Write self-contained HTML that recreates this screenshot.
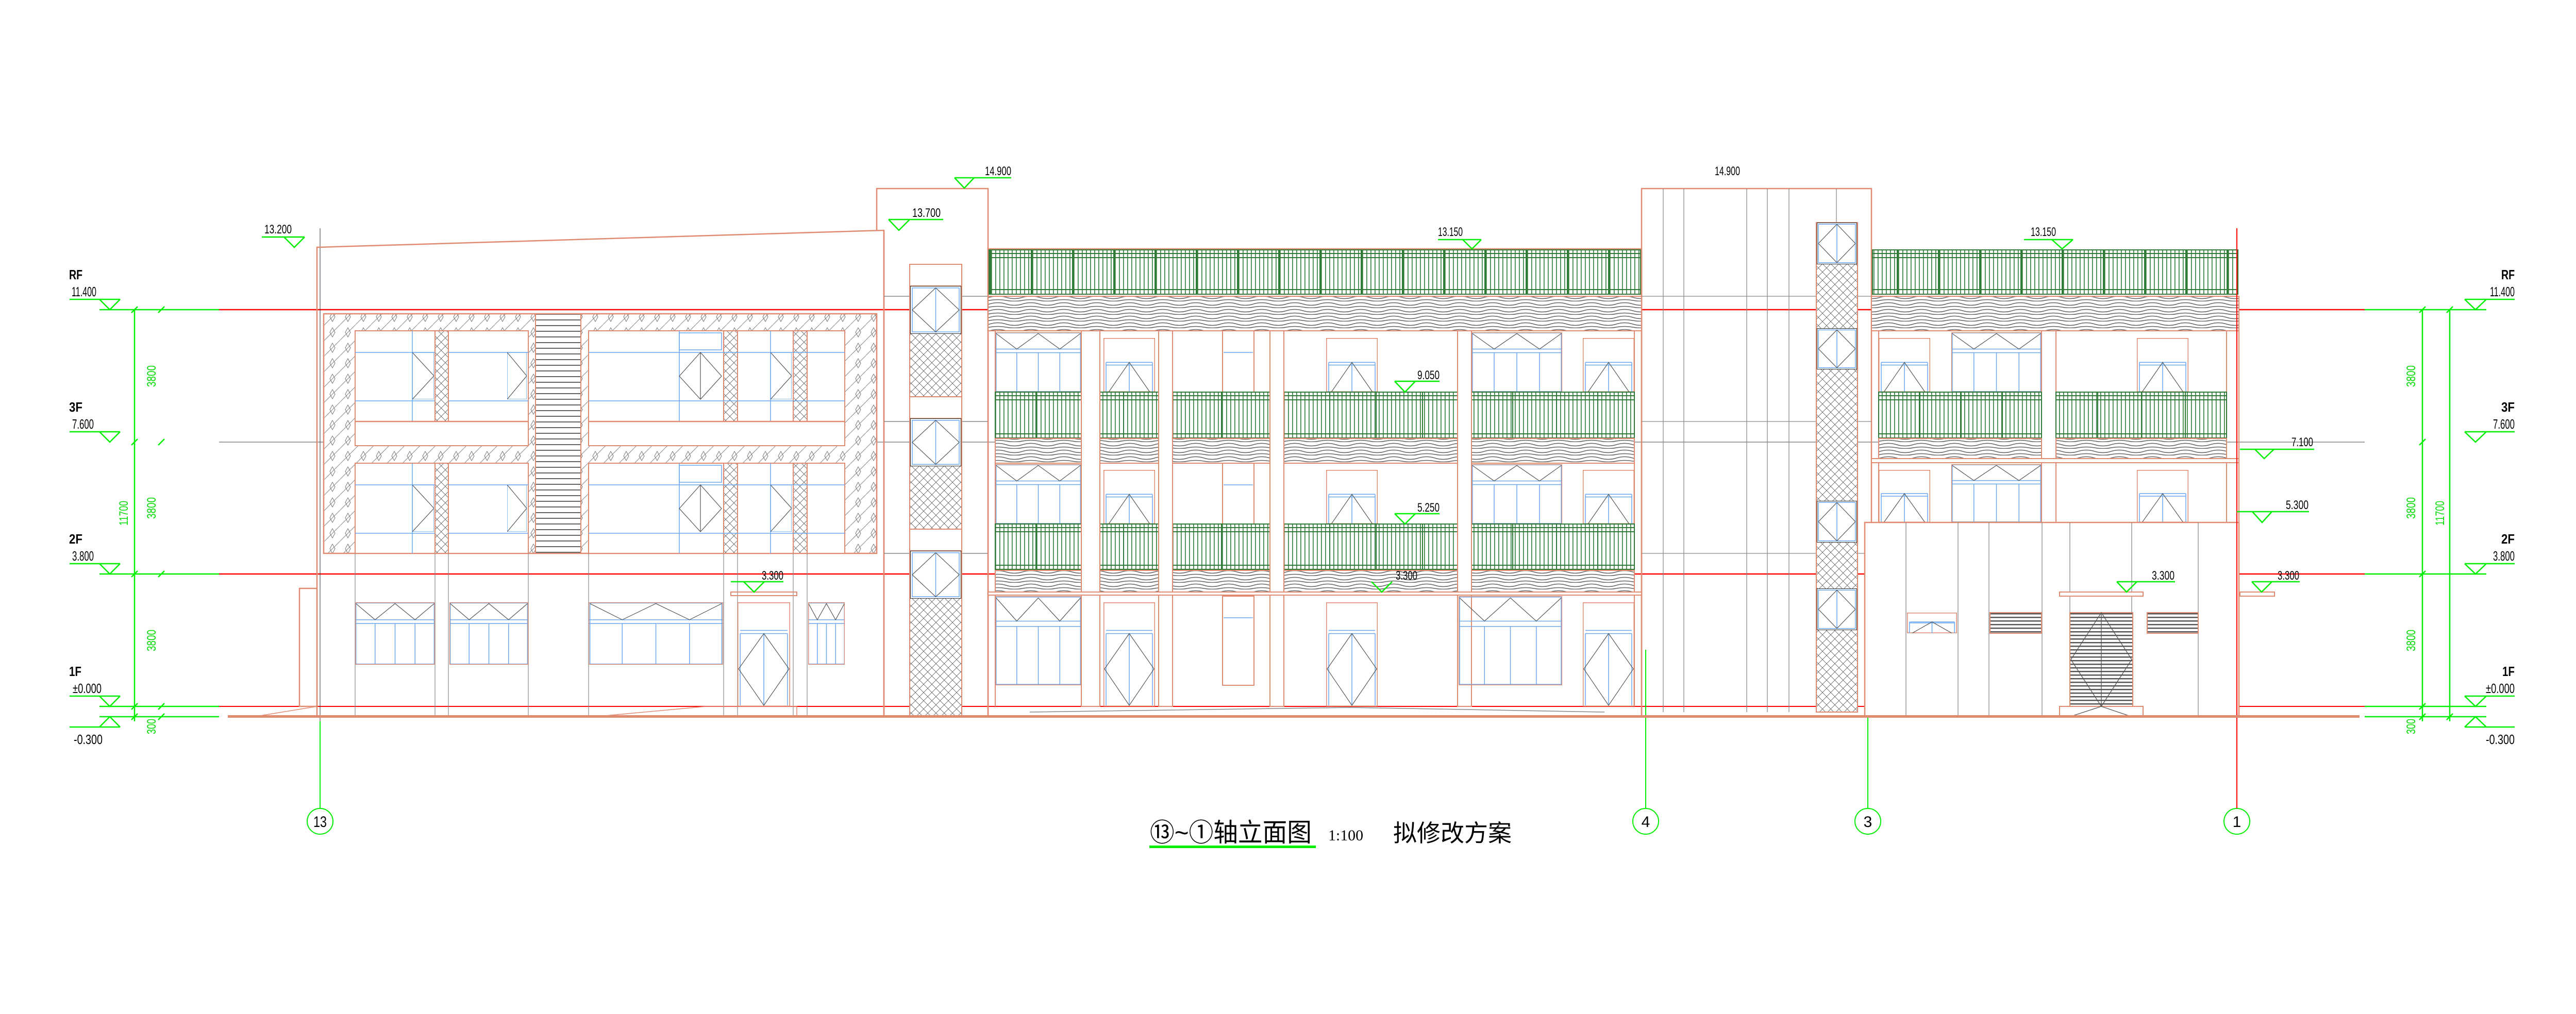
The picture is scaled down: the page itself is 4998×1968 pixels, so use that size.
<!DOCTYPE html>
<html><head><meta charset="utf-8"><style>
html,body{margin:0;padding:0;background:#fff;}
svg{display:block;}
text{font-family:"Liberation Sans","Noto Sans CJK SC",sans-serif;fill:#000;}
</style></head><body>
<svg width="4998" height="1968" viewBox="0 0 4998 1968" xmlns="http://www.w3.org/2000/svg">
<defs>
<pattern id="xh" width="16" height="16" patternUnits="userSpaceOnUse"><rect width="16" height="16" fill="#fff"/><path d="M0 0L16 16M16 0L0 16" stroke="#777" stroke-width="1"/></pattern>
<pattern id="dh" width="30" height="30" patternUnits="userSpaceOnUse"><rect width="30" height="30" fill="#fff"/><path d="M0 30L30 0" stroke="#888" stroke-width="1"/><path d="M15 6L20 15L15 24L10 15Z" fill="none" stroke="#777" stroke-width="1"/></pattern>
<pattern id="wv" width="64" height="13" patternUnits="userSpaceOnUse"><rect width="64" height="13" fill="#fff"/><path d="M0 5q16 -5 32 0t32 0M0 11q16 -3 32 0t32 0" fill="none" stroke="#666" stroke-width="1.6"/></pattern>
<pattern id="rl" width="8" height="20" patternUnits="userSpaceOnUse"><rect width="8" height="20" fill="#fff"/><rect x="3" y="0" width="1.6" height="20" fill="#2e7a36"/></pattern>
<pattern id="rp" width="80" height="400" patternUnits="userSpaceOnUse"><rect x="0" y="0" width="3" height="400" fill="#2e7a36"/></pattern>
<pattern id="lv" width="10" height="7" patternUnits="userSpaceOnUse"><rect width="10" height="7" fill="#fff"/><rect y="0" width="10" height="2.5" fill="#555"/></pattern>
<pattern id="st" width="10" height="11" patternUnits="userSpaceOnUse"><rect width="10" height="11" fill="#fff"/><rect y="4" width="10" height="1.8" fill="#555"/></pattern>
<symbol id="wt" viewBox="0 0 100 100" preserveAspectRatio="none"><g fill="none" stroke="#6aa8f0" stroke-width="1.5" vector-effect="non-scaling-stroke"><rect x="1" y="1" width="98" height="98" vector-effect="non-scaling-stroke"/><path d="M0 28H100M0 34H100M25 34V100M50 34V100M75 34V100" vector-effect="non-scaling-stroke"/></g><path d="M1 2L25 28L50 2L75 28L99 2" fill="none" stroke="#555" stroke-width="1.2" vector-effect="non-scaling-stroke"/><rect x="0" y="0" width="100" height="100" fill="none" stroke="#e08a70" stroke-width="2.5" vector-effect="non-scaling-stroke"/></symbol>
<symbol id="bt" viewBox="0 0 100 100" preserveAspectRatio="none"><rect x="0" y="0" width="100" height="100" fill="none" stroke="#e08a70" stroke-width="3" vector-effect="non-scaling-stroke"/><path d="M5 45H95M5 50H95M50 45V100M5 45V100M95 45V100" fill="none" stroke="#6aa8f0" stroke-width="1.5" vector-effect="non-scaling-stroke"/><path d="M10 100L50 45L90 100" fill="none" stroke="#555" stroke-width="1.2" vector-effect="non-scaling-stroke"/></symbol>
<symbol id="dd" viewBox="0 0 100 100" preserveAspectRatio="none"><rect x="0" y="0" width="100" height="100" fill="none" stroke="#e08a70" stroke-width="3" vector-effect="non-scaling-stroke"/><path d="M5 27H95M5 30H95M5 30V99M95 30V99M50 30V99" fill="none" stroke="#6aa8f0" stroke-width="1.5" vector-effect="non-scaling-stroke"/><path d="M50 30L98 64L50 99L2 64Z" fill="none" stroke="#555" stroke-width="1.2" vector-effect="non-scaling-stroke"/></symbol>
<symbol id="dw" viewBox="0 0 100 100" preserveAspectRatio="none"><rect x="0" y="0" width="100" height="100" fill="#fff" stroke="#333" stroke-width="2" vector-effect="non-scaling-stroke"/><path d="M4 4H96V96H4ZM50 4V96" fill="none" stroke="#6aa8f0" stroke-width="1.5" vector-effect="non-scaling-stroke"/><path d="M50 4L96 50L50 96L4 50Z" fill="none" stroke="#555" stroke-width="1.2" vector-effect="non-scaling-stroke"/></symbol>
<symbol id="rt" viewBox="0 0 100 100" preserveAspectRatio="none"><rect x="0" y="0" width="100" height="100" fill="none" stroke="#6aa8f0" stroke-width="1.5" vector-effect="non-scaling-stroke"/><path d="M0 0L100 50L0 100" fill="none" stroke="#555" stroke-width="1.2" vector-effect="non-scaling-stroke"/></symbol>
</defs>

<!-- level lines -->
<g stroke-width="2.5">
<line x1="425" y1="601" x2="4588" y2="601" stroke="#ff0000"/>
<line x1="425" y1="858" x2="4588" y2="858" stroke="#444" stroke-width="1"/>
<line x1="425" y1="1114" x2="4588" y2="1114" stroke="#ff0000"/>
<line x1="425" y1="1371" x2="4588" y2="1371" stroke="#ff0000" stroke-width="2"/>
</g>
<g stroke="#00ee00" stroke-width="2.5" fill="none">
<line x1="193" y1="601" x2="425" y2="601"/><line x1="193" y1="1114" x2="425" y2="1114"/><line x1="193" y1="1371" x2="425" y2="1371"/><line x1="193" y1="1391" x2="425" y2="1391"/>
<line x1="4588" y1="601" x2="4824" y2="601"/><line x1="4588" y1="1114" x2="4824" y2="1114"/><line x1="4588" y1="1371" x2="4824" y2="1371"/><line x1="4588" y1="1391" x2="4824" y2="1391"/>
<path d="M135 581H233M193 581L213 601L233 581"/>
<path d="M135 838H233M193 838L213 858L233 838"/>
<path d="M135 1094H233M193 1094L213 1114L233 1094"/>
<path d="M135 1351H233M193 1351L213 1371L233 1351"/>
<path d="M135 1411H233M193 1411L213 1391L233 1411"/>
<path d="M4782 581H4879M4782 581L4803 601L4824 581"/>
<path d="M4782 838H4879M4782 838L4803 858L4824 838"/>
<path d="M4782 1094H4879M4782 1094L4803 1114L4824 1094"/>
<path d="M4782 1351H4879M4782 1351L4803 1371L4824 1351"/>
<path d="M4782 1411H4879M4782 1411L4803 1391L4824 1411"/>
<line x1="261" y1="601" x2="261" y2="1400"/>
<path d="M255 607L267 595M255 864L267 852M255 1120L267 1108M255 1377L267 1365M255 1397L267 1385M307 607L319 595M307 864L319 852M307 1120L319 1108M307 1377L319 1365M307 1397L319 1385"/>
<line x1="4700" y1="601" x2="4700" y2="1400"/><line x1="4753" y1="601" x2="4753" y2="1400"/>
<path d="M4694 607L4706 595M4694 864L4706 852M4694 1120L4706 1108M4694 1377L4706 1365M4694 1397L4706 1385M4747 607L4759 595M4747 1397L4759 1385"/>
</g>
<g font-size="24">
<text transform="translate(302,730) rotate(-90)" text-anchor="middle" fill="#00dd00" style="fill:#00dd00" textLength="42" lengthAdjust="spacingAndGlyphs">3800</text>
<text transform="translate(302,986) rotate(-90)" text-anchor="middle" style="fill:#00dd00" textLength="42" lengthAdjust="spacingAndGlyphs">3800</text>
<text transform="translate(302,1243) rotate(-90)" text-anchor="middle" style="fill:#00dd00" textLength="42" lengthAdjust="spacingAndGlyphs">3800</text>
<text transform="translate(302,1410) rotate(-90)" text-anchor="middle" style="fill:#00dd00" textLength="30" lengthAdjust="spacingAndGlyphs">300</text>
<text transform="translate(248,996) rotate(-90)" text-anchor="middle" style="fill:#00dd00" textLength="48" lengthAdjust="spacingAndGlyphs">11700</text>
<text transform="translate(4686,730) rotate(-90)" text-anchor="middle" style="fill:#00dd00" textLength="42" lengthAdjust="spacingAndGlyphs">3800</text>
<text transform="translate(4686,986) rotate(-90)" text-anchor="middle" style="fill:#00dd00" textLength="42" lengthAdjust="spacingAndGlyphs">3800</text>
<text transform="translate(4686,1243) rotate(-90)" text-anchor="middle" style="fill:#00dd00" textLength="42" lengthAdjust="spacingAndGlyphs">3800</text>
<text transform="translate(4686,1410) rotate(-90)" text-anchor="middle" style="fill:#00dd00" textLength="30" lengthAdjust="spacingAndGlyphs">300</text>
<text transform="translate(4742,996) rotate(-90)" text-anchor="middle" style="fill:#00dd00" textLength="48" lengthAdjust="spacingAndGlyphs">11700</text>
</g>
<g font-size="26">
<text x="134" y="542" textLength="26" lengthAdjust="spacingAndGlyphs" font-weight="bold">RF</text>
<text x="139" y="575" textLength="48" lengthAdjust="spacingAndGlyphs">11.400</text>
<text x="134" y="799" textLength="26" lengthAdjust="spacingAndGlyphs" font-weight="bold">3F</text>
<text x="140" y="832" textLength="42" lengthAdjust="spacingAndGlyphs">7.600</text>
<text x="134" y="1055" textLength="26" lengthAdjust="spacingAndGlyphs" font-weight="bold">2F</text>
<text x="140" y="1088" textLength="42" lengthAdjust="spacingAndGlyphs">3.800</text>
<text x="134" y="1312" textLength="24" lengthAdjust="spacingAndGlyphs" font-weight="bold">1F</text>
<text x="141" y="1345" textLength="56" lengthAdjust="spacingAndGlyphs">±0.000</text>
<text x="143" y="1444" textLength="56" lengthAdjust="spacingAndGlyphs">-0.300</text>
<text x="4853" y="542" textLength="26" lengthAdjust="spacingAndGlyphs" font-weight="bold">RF</text>
<text x="4831" y="575" textLength="48" lengthAdjust="spacingAndGlyphs">11.400</text>
<text x="4853" y="799" textLength="26" lengthAdjust="spacingAndGlyphs" font-weight="bold">3F</text>
<text x="4837" y="832" textLength="42" lengthAdjust="spacingAndGlyphs">7.600</text>
<text x="4853" y="1055" textLength="26" lengthAdjust="spacingAndGlyphs" font-weight="bold">2F</text>
<text x="4837" y="1088" textLength="42" lengthAdjust="spacingAndGlyphs">3.800</text>
<text x="4855" y="1312" textLength="24" lengthAdjust="spacingAndGlyphs" font-weight="bold">1F</text>
<text x="4823" y="1345" textLength="56" lengthAdjust="spacingAndGlyphs">±0.000</text>
<text x="4823" y="1444" textLength="56" lengthAdjust="spacingAndGlyphs">-0.300</text>
</g>

<!-- axis lines & bubbles -->
<g fill="none" stroke-width="2">
<line x1="621" y1="443" x2="621" y2="1569" stroke="#333" stroke-width="1"/>
<line x1="3193" y1="1261" x2="3193" y2="1569" stroke="#00ee00"/>
<line x1="3624" y1="1258" x2="3624" y2="1569" stroke="#00ee00"/>
<line x1="4340" y1="443" x2="4340" y2="1569" stroke="#ff0000"/>
<line x1="621" y1="1400" x2="621" y2="1569" stroke="#00ee00"/>
<circle cx="621" cy="1594" r="25" stroke="#00ee00"/>
<circle cx="3193" cy="1594" r="25" stroke="#00ee00"/>
<circle cx="3624" cy="1594" r="25" stroke="#00ee00"/>
<circle cx="4340" cy="1594" r="25" stroke="#00ee00"/>
</g>
<g font-size="30" text-anchor="middle">
<text x="621" y="1605" textLength="26" lengthAdjust="spacingAndGlyphs">13</text>
<text x="3193" y="1605">4</text>
<text x="3624" y="1605">3</text>
<text x="4340" y="1605">1</text>
</g>

<!-- ===== LEFT BLOCK ===== -->
<g fill="none" stroke="#e08a70" stroke-width="2.5">
<path d="M615 1391V480L1715 447V1391"/>
<rect x="581" y="1142" width="34" height="229"/>
</g>
<rect x="628" y="609" width="1073" height="465" fill="url(#dh)" stroke="#e08a70" stroke-width="2.5"/>
<g fill="#fff" stroke="#e08a70" stroke-width="2">
<rect x="689" y="642" width="336" height="223"/>
<rect x="689" y="899" width="336" height="175"/>
<rect x="1142" y="642" width="497" height="223"/>
<rect x="1142" y="899" width="497" height="175"/>
<rect x="1039" y="609" width="88" height="465" fill="url(#st)"/>
</g>
<g fill="url(#xh)" stroke="#e08a70" stroke-width="2">
<rect x="844" y="642" width="26" height="176"/><rect x="844" y="899" width="26" height="175"/>
<rect x="1404" y="642" width="27" height="176"/><rect x="1404" y="899" width="27" height="175"/>
<rect x="1539" y="642" width="27" height="176"/><rect x="1539" y="899" width="27" height="175"/>
</g>
<g stroke="#6aa8f0" stroke-width="1.5" fill="none">
<path d="M689 684H844M870 684H1025M689 778H844M870 778H1025M800 642V818M1142 684H1639M1142 778H1639M1318 642V818M1495 642V818"/>
<path d="M689 941H844M870 941H1025M689 1035H844M870 1035H1025M800 899V1074M1142 941H1639M1142 1035H1639M1318 899V1074M1495 899V1074"/>
<rect x="1318" y="646" width="82" height="33"/><rect x="1318" y="903" width="82" height="33"/>
</g>
<path d="M689 818H1025M1142 818H1639" stroke="#e08a70" stroke-width="2.5"/>
<use href="#rt" x="800" y="684" width="42" height="91"/><use href="#rt" x="984" y="684" width="38" height="91"/><use href="#rt" x="1495" y="684" width="41" height="91"/>
<use href="#rt" x="800" y="941" width="42" height="91"/><use href="#rt" x="984" y="941" width="38" height="91"/><use href="#rt" x="1495" y="941" width="41" height="91"/>
<g stroke="#555" stroke-width="1.2" fill="none">
<path d="M1318 730L1359 684L1400 730L1359 775ZM1359 684V775"/>
<path d="M1318 987L1359 941L1400 987L1359 1032ZM1359 941V1032"/>
</g>
<g stroke="#888" stroke-width="1.2"><path d="M689 1074V1391M844 1074V1391M870 1074V1391M1025 1074V1391M1142 1074V1391M1404 1074V1391M1431 1074V1391M1539 1074V1391M1566 1074V1391"/></g>
<use href="#wt" x="689" y="1169" width="155" height="121"/>
<use href="#wt" x="872" y="1169" width="153" height="121"/>
<use href="#wt" x="1142" y="1169" width="261" height="121"/>
<use href="#wt" x="1568" y="1169" width="71" height="121"/>
<use href="#dd" x="1431" y="1169" width="102" height="202"/>
<rect x="1418" y="1149" width="128" height="7" fill="none" stroke="#e08a70" stroke-width="2"/>
<path d="M493 1391L615 1371M1153 1391L1370 1371H1546V1391" stroke="#e08a70" stroke-width="1.5" fill="none"/>

<!-- ===== STAIR TOWER ===== -->
<g fill="none" stroke="#e08a70" stroke-width="2.5">
<path d="M1701 447V366H1917V1391"/>
<line x1="1715" y1="447" x2="1715" y2="1391"/>
</g>
<path d="M1715 575H1765M1866 575H1917M1715 818H1765M1866 818H1917M1715 1074H1765M1866 1074H1917" stroke="#888" stroke-width="1.5"/>
<rect x="1765" y="513" width="101" height="878" fill="url(#xh)" stroke="#e08a70" stroke-width="2"/>
<g fill="#fff" stroke="#e08a70" stroke-width="2"><rect x="1765" y="513" width="101" height="42"/><rect x="1765" y="770" width="101" height="42"/><rect x="1765" y="1027" width="101" height="42"/></g>
<use href="#dw" x="1766" y="555" width="99" height="93"/>
<use href="#dw" x="1766" y="812" width="99" height="93"/>
<use href="#dw" x="1766" y="1069" width="99" height="93"/>

<!-- ===== MIDDLE BLOCK ===== -->
<rect x="1917" y="483" width="1268" height="908" fill="none" stroke="#e08a70" stroke-width="2.5"/>
<g stroke="#2e7a36" stroke-width="2">
<rect x="1919" y="485" width="1264" height="86" fill="url(#rl)"/>
<rect x="1919" y="485" width="1264" height="86" fill="url(#rp)" stroke="none"/>
<path d="M1919 492H3183M1919 500H3183M1919 562H3183" fill="none"/>
</g>
<rect x="1917" y="575" width="1268" height="67" fill="url(#wv)" stroke="#e08a70" stroke-width="2"/>
<g fill="#fff" stroke="#e08a70" stroke-width="2">
<rect x="2098" y="642" width="36" height="729"/><rect x="2248" y="642" width="27" height="729"/><rect x="2464" y="642" width="27" height="729"/><rect x="2828" y="642" width="27" height="729"/>
<path d="M1931 642V1371M3171 642V1371" />
</g>
<use href="#wt" x="1931" y="645" width="167" height="116"/>
<use href="#bt" x="2141" y="656" width="100" height="105"/>
<use href="#bt" x="2573" y="656" width="100" height="105"/>
<use href="#wt" x="2855" y="645" width="176" height="116"/>
<use href="#bt" x="3071" y="656" width="100" height="105"/>
<use href="#wt" x="1931" y="901" width="167" height="116"/>
<use href="#bt" x="2141" y="912" width="100" height="105"/>
<use href="#bt" x="2573" y="912" width="100" height="105"/>
<use href="#wt" x="2855" y="901" width="176" height="116"/>
<use href="#bt" x="3071" y="912" width="100" height="105"/>
<g fill="none" stroke="#e08a70" stroke-width="2"><rect x="2372" y="642" width="61" height="176"/><rect x="2372" y="899" width="61" height="176"/><rect x="2372" y="1157" width="61" height="173"/></g>
<path d="M2374 684H2431M2374 941H2431M2374 1199H2431" stroke="#6aa8f0" stroke-width="1.5"/>
<g stroke="#2e7a36" stroke-width="2">
<g fill="url(#rl)">
<rect x="1931" y="761" width="167" height="89"/><rect x="2134" y="761" width="114" height="89"/><rect x="2275" y="761" width="189" height="89"/><rect x="2491" y="761" width="337" height="89"/><rect x="2855" y="761" width="316" height="89"/>
<rect x="1931" y="1017" width="167" height="88"/><rect x="2134" y="1017" width="114" height="88"/><rect x="2275" y="1017" width="189" height="88"/><rect x="2491" y="1017" width="337" height="88"/><rect x="2855" y="1017" width="316" height="88"/>
</g>
<path d="M1931 768H3171M1931 776H3171M1931 842H3171M1931 1024H3171M1931 1032H3171M1931 1097H3171M2010 761V850M2180 761V850M2370 761V850M2580 761V850M2670 761V850M2760 761V850M2935 761V850M3020 761V850M3100 761V850M2010 1017V1105M2180 1017V1105M2370 1017V1105M2580 1017V1105M2670 1017V1105M2760 1017V1105M2935 1017V1105M3020 1017V1105M3100 1017V1105" fill="none"/>
</g>
<g fill="#fff" stroke="none"><rect x="2099" y="760" width="34" height="350"/><rect x="2249" y="760" width="25" height="350"/><rect x="2465" y="760" width="25" height="350"/><rect x="2829" y="760" width="25" height="350"/></g>
<g fill="none" stroke="#e08a70" stroke-width="2"><path d="M2098 760V1110M2134 760V1110M2248 760V1110M2275 760V1110M2464 760V1110M2491 760V1110M2828 760V1110M2855 760V1110"/></g>
<g fill="url(#wv)" stroke="#e08a70" stroke-width="2">
<rect x="1931" y="851" width="167" height="48"/><rect x="2134" y="851" width="114" height="48"/><rect x="2275" y="851" width="189" height="48"/><rect x="2491" y="851" width="337" height="48"/><rect x="2855" y="851" width="316" height="48"/>
<rect x="1931" y="1107" width="167" height="42"/><rect x="2134" y="1107" width="114" height="42"/><rect x="2275" y="1107" width="189" height="42"/><rect x="2491" y="1107" width="337" height="42"/><rect x="2855" y="1107" width="316" height="42"/>
</g>
<rect x="1917" y="1149" width="1268" height="6" fill="#fff" stroke="#e08a70" stroke-width="2"/>
<use href="#wt" x="1931" y="1157" width="167" height="173"/>
<use href="#dd" x="2141" y="1169" width="100" height="202"/>
<use href="#dd" x="2573" y="1169" width="100" height="202"/>
<use href="#wt" x="2830" y="1157" width="201" height="173"/>
<use href="#dd" x="3071" y="1169" width="100" height="202"/>
<path d="M1998 1382L2620 1373L3113 1382" stroke="#888" stroke-width="1.5" fill="none"/>

<!-- ===== RIGHT TALL BLOCK ===== -->
<rect x="3185" y="366" width="446" height="1025" fill="none" stroke="#e08a70" stroke-width="2.5"/>
<g stroke="#888" stroke-width="1.3">
<path d="M3227 366V1382M3267 366V1382M3389 366V1382M3429 366V1382M3471 366V1382M3563 366V1382"/>
<path d="M3185 575H3631M3185 818H3631M3185 1074H3631"/>
</g>
<rect x="3524" y="432" width="80" height="950" fill="url(#xh)" stroke="#e08a70" stroke-width="2"/>
<use href="#dw" x="3525" y="432" width="78" height="81"/>
<use href="#dw" x="3525" y="637" width="78" height="80"/>
<use href="#dw" x="3525" y="972" width="78" height="81"/>
<use href="#dw" x="3525" y="1142" width="78" height="81"/>

<!-- ===== RIGHT BLOCK ===== -->
<g stroke="#2e7a36" stroke-width="2">
<rect x="3633" y="485" width="709" height="86" fill="url(#rl)"/>
<rect x="3633" y="485" width="709" height="86" fill="url(#rp)" stroke="none"/>
<path d="M3633 492H4342M3633 500H4342M3633 562H4342" fill="none"/>
</g>
<rect x="3631" y="575" width="713" height="67" fill="url(#wv)" stroke="#e08a70" stroke-width="2"/>
<g fill="none" stroke="#e08a70" stroke-width="2"><path d="M3645 642V1014M4320 642V1014M4344 575V1391"/><rect x="3961" y="642" width="28" height="372" fill="#fff"/></g>
<use href="#bt" x="3645" y="656" width="100" height="105"/>
<use href="#wt" x="3786" y="645" width="175" height="116"/>
<use href="#bt" x="4146" y="656" width="100" height="105"/>
<use href="#bt" x="3645" y="912" width="100" height="102"/>
<use href="#wt" x="3786" y="901" width="175" height="113"/>
<use href="#bt" x="4146" y="912" width="100" height="102"/>
<g stroke="#2e7a36" stroke-width="2"><rect x="3645" y="761" width="316" height="89" fill="url(#rl)"/><rect x="3989" y="761" width="331" height="89" fill="url(#rl)"/>
<path d="M3645 768H3961M3645 776H3961M3645 842H3961M3989 768H4320M3989 776H4320M3989 842H4320M3725 761V850M3805 761V850M3885 761V850M4070 761V850M4155 761V850M4240 761V850" fill="none"/></g>
<g fill="url(#wv)" stroke="#e08a70" stroke-width="2"><rect x="3645" y="851" width="316" height="39"/><rect x="3989" y="851" width="331" height="39"/></g>
<rect x="3631" y="890" width="713" height="8" fill="#fff" stroke="#e08a70" stroke-width="2"/>
<rect x="3618" y="1014" width="726" height="377" fill="#fff" stroke="#e08a70" stroke-width="2.5"/>
<g stroke="#888" stroke-width="1.3"><path d="M3698 1014V1391M3799 1014V1391M3859 1014V1391M3962 1014V1391M4016 1014V1391M4136 1014V1391M4265 1014V1391"/></g>
<use href="#bt" x="3700" y="1189" width="97" height="40"/>
<g stroke="#e08a70" stroke-width="2"><rect x="3861" y="1189" width="100" height="40" fill="url(#lv)"/><rect x="4166" y="1189" width="99" height="40" fill="url(#lv)"/><rect x="4016" y="1189" width="122" height="182" fill="url(#lv)"/><rect x="3996" y="1149" width="162" height="8" fill="#fff"/><rect x="4346" y="1149" width="67" height="8" fill="#fff"/><rect x="3996" y="1371" width="162" height="20" fill="#fff"/></g>
<path d="M4077 1189L4136 1280L4077 1371L4018 1280ZM4077 1189V1371M4016 1391L4077 1371L4136 1391" stroke="#555" stroke-width="1.3" fill="none"/>
<line x1="4340" y1="443" x2="4340" y2="1569" stroke="#ff0000" stroke-width="2"/>

<rect x="442" y="1388" width="4136" height="5" fill="#e08a70"/>

<!-- elevation markers -->
<g stroke="#00ee00" stroke-width="2.5" fill="none">
<path d="M508 460H591M551 460L571 480L591 460"/>
<path d="M1724 426H1830M1724 426L1744 447L1765 426"/>
<path d="M1852 345H1962M1852 345L1871 365L1890 345"/>
<path d="M2790 465H2874M2838 465L2856 483L2874 465"/>
<path d="M2706 740H2793M2706 740L2726 761L2746 740"/>
<path d="M2706 997H2793M2706 997L2726 1017L2746 997"/>
<path d="M2661 1129L2681 1149L2701 1129"/>
<path d="M1418 1129H1520M1443 1129L1463 1149L1483 1129"/>
<path d="M3927 465H4022M3981 465L4001 483L4022 465"/>
<path d="M4346 872H4490M4375 872L4393 890L4412 872"/>
<path d="M4340 993H4480M4370 993L4389 1014L4408 993"/>
<path d="M4107 1129H4220M4107 1129L4126 1149L4146 1129"/>
<path d="M4369 1129H4462M4369 1129L4388 1149L4408 1129"/>
</g>
<g font-size="24">
<text x="513" y="453" textLength="53" lengthAdjust="spacingAndGlyphs">13.200</text>
<text x="1770" y="421" textLength="55" lengthAdjust="spacingAndGlyphs">13.700</text>
<text x="1911" y="340" textLength="51" lengthAdjust="spacingAndGlyphs">14.900</text>
<text x="3327" y="340" textLength="49" lengthAdjust="spacingAndGlyphs">14.900</text>
<text x="2790" y="458" textLength="48" lengthAdjust="spacingAndGlyphs">13.150</text>
<text x="3940" y="458" textLength="49" lengthAdjust="spacingAndGlyphs">13.150</text>
<text x="2750" y="736" textLength="43" lengthAdjust="spacingAndGlyphs">9.050</text>
<text x="2750" y="993" textLength="43" lengthAdjust="spacingAndGlyphs">5.250</text>
<text x="2708" y="1125" textLength="42" lengthAdjust="spacingAndGlyphs">3.300</text>
<text x="1478" y="1125" textLength="42" lengthAdjust="spacingAndGlyphs">3.300</text>
<text x="4446" y="866" textLength="42" lengthAdjust="spacingAndGlyphs">7.100</text>
<text x="4435" y="988" textLength="44" lengthAdjust="spacingAndGlyphs">5.300</text>
<text x="4175" y="1125" textLength="44" lengthAdjust="spacingAndGlyphs">3.300</text>
<text x="4419" y="1125" textLength="42" lengthAdjust="spacingAndGlyphs">3.300</text>
</g>

<text x="2231" y="1633" font-size="50" textLength="314" lengthAdjust="spacingAndGlyphs">⑬~①轴立面图</text>
<rect x="2230" y="1641" width="323" height="5" fill="#00ee00"/>
<text x="2577" y="1631" font-size="30" style="font-family:'Liberation Serif',serif" textLength="68" lengthAdjust="spacingAndGlyphs">1:100</text>
<text x="2703" y="1633" font-size="46" textLength="230" lengthAdjust="spacingAndGlyphs">拟修改方案</text>
</svg>
</body></html>
